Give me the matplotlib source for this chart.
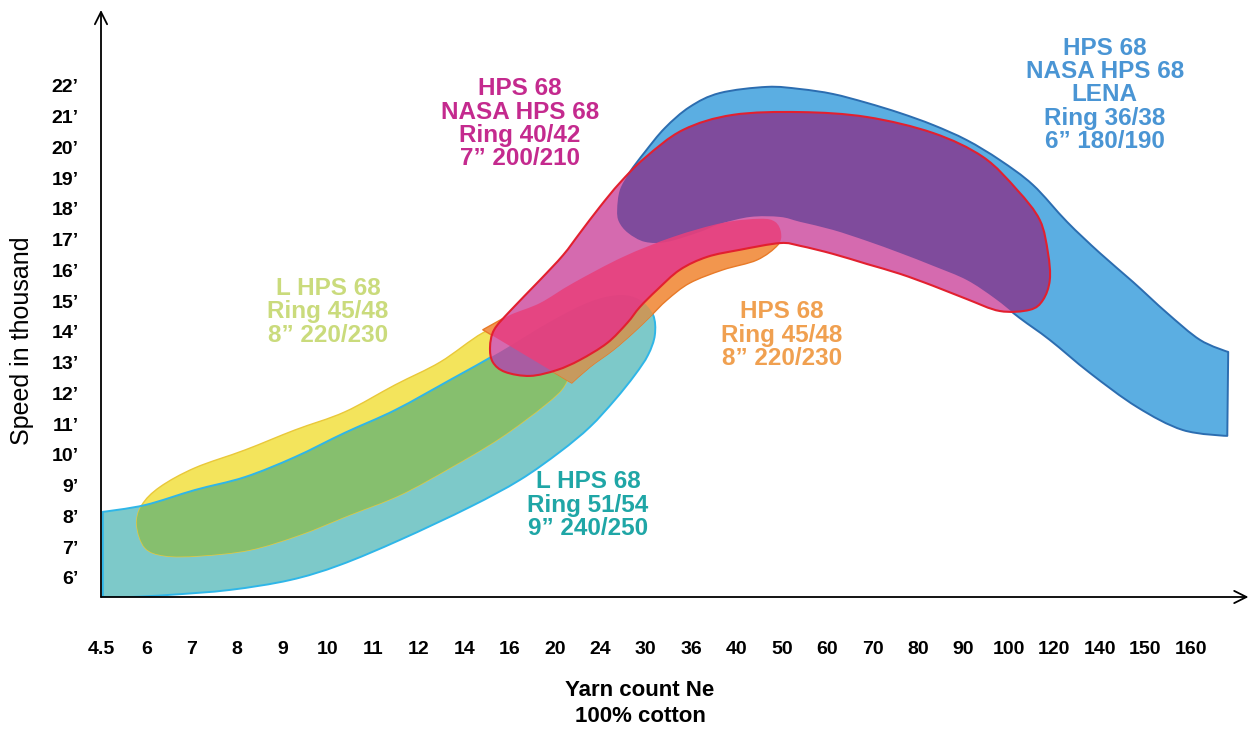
import numpy as np
import matplotlib
matplotlib.use("Agg")
import matplotlib.pyplot as plt
from matplotlib.path import Path
from matplotlib.patches import PathPatch

# ---------------- data ----------------
yarn_counts = ['4.5', '6', '7', '8', '9', '10', '11', '12', '14', '16', '20', '24', '30',
               '36', '40', '50', '60', '70', '80', '90', '100', '120', '140', '150', '160']
speed_ticks = list(range(6, 23))
speed_labels = [f"{v}\u2019" for v in speed_ticks]

# outlines: x = position on the yarn-count scale (category index), y = speed (thousand rpm)
# L HPS 68 / Ring 51/54 / 9" 240/250 (teal)
teal_x = [0.04, 0.97, 2.07, 3.17, 4.27, 5.37, 6.48, 7.69, 8.79, 9.89, 10.77, 11.43, 11.87, 12.16,
          12.20, 12.05, 11.76, 11.32, 10.77, 10.11, 9.23, 8.13, 6.59, 5.26, 4.16, 2.84, 1.52, 0.64, 0.04]
teal_y = [8.15, 8.37, 8.86, 9.28, 9.93, 10.72, 11.46, 12.44, 13.35, 14.33, 14.98, 15.20, 15.04, 14.56,
          13.90, 13.25, 12.60, 11.79, 10.91, 10.10, 9.19, 8.31, 7.24, 6.42, 5.93, 5.61, 5.45, 5.38, 5.38]

# L HPS 68 / Ring 45/48 / 8" 220/230 (yellow)
yellow_x = [0.79, 0.90, 1.30, 2.07, 3.17, 4.27, 5.37, 6.48, 7.47, 8.41, 9.23, 10.00, 10.33, 10.37,
            10.22, 9.78, 8.79, 7.69, 6.59, 5.48, 4.38, 3.28, 2.18, 1.41, 0.97]
yellow_y = [7.72, 8.37, 8.96, 9.58, 10.16, 10.81, 11.40, 12.28, 13.02, 13.97, 14.46, 14.65, 14.07, 13.09,
            12.28, 11.63, 10.55, 9.58, 8.70, 8.05, 7.40, 6.91, 6.72, 6.72, 6.98]

# HPS 68 / Ring 45/48 / 8" 220/230 (orange)
orange_x = [8.41, 9.01, 9.67, 10.40, 11.50, 12.60, 13.70, 14.52, 14.85, 14.98, 14.91, 14.45, 13.70,
            12.97, 12.47, 12.09, 11.72, 11.28, 10.77, 10.37]
orange_y = [14.07, 14.55, 14.94, 15.59, 16.44, 17.09, 17.55, 17.68, 17.58, 17.22, 16.83, 16.34, 16.02,
            15.59, 15.04, 14.49, 13.97, 13.41, 12.86, 12.34]

# HPS 68 / NASA HPS 68 / LENA / Ring 36/38 / 6" 180/190 (blue)
blue_x = [11.37, 11.43, 11.65, 11.98, 12.42, 12.97, 13.63, 14.67, 15.40, 16.12, 16.87, 17.60, 18.33,
          19.07, 19.80, 20.53, 21.28, 22.00, 22.73, 23.48, 24.21, 24.83, 24.81,
          23.83, 22.82, 21.78, 20.90, 20.24, 19.69, 19.07, 18.33, 17.60, 16.87, 16.12, 15.40, 14.96,
          14.30, 13.63, 13.19, 12.47, 11.98, 11.61, 11.41]
blue_y = [17.97, 18.62, 19.20, 19.85, 20.63, 21.32, 21.77, 21.97, 21.90, 21.74, 21.45, 21.12, 20.73,
          20.24, 19.59, 18.78, 17.58, 16.57, 15.63, 14.62, 13.74, 13.35, 10.62,
          10.81, 11.56, 12.67, 13.74, 14.45, 15.09, 15.69, 16.15, 16.57, 16.96, 17.32, 17.58, 17.74,
          17.74, 17.51, 17.25, 16.93, 16.93, 17.22, 17.58]

# HPS 68 / NASA HPS 68 / Ring 40/42 / 7" 200/210 (magenta)
pink_x = [8.57, 8.66, 9.01, 9.67, 10.18, 10.55, 10.99, 11.43, 11.98, 12.82, 13.92, 15.40, 16.87, 18.33,
          19.43, 20.18, 20.68, 20.86, 20.90, 20.75, 20.46, 19.80, 19.07, 18.33, 17.60, 16.87, 16.12,
          15.40, 14.96, 14.07, 13.35, 12.75, 12.25, 11.87, 11.59, 11.15, 10.55, 10.04, 9.45, 8.90, 8.63]
pink_y = [13.51, 14.07, 14.68, 15.69, 16.50, 17.22, 18.07, 18.85, 19.66, 20.57, 21.06, 21.15, 20.99, 20.47,
          19.69, 18.62, 17.64, 16.57, 15.69, 15.04, 14.72, 14.68, 15.07, 15.50, 15.89, 16.21, 16.54,
          16.80, 16.89, 16.67, 16.44, 16.02, 15.37, 14.81, 14.29, 13.64, 13.09, 12.76, 12.57, 12.70, 13.02]

labels = {
    'pink': "HPS 68\nNASA HPS 68\nRing 40/42\n7\u201d 200/210",
    'blue': "HPS 68\nNASA HPS 68\nLENA\nRing 36/38\n6\u201d 180/190",
    'yellow': "L HPS 68\nRing 45/48\n8\u201d 220/230",
    'orange': "HPS 68\nRing 45/48\n8\u201d 220/230",
    'teal': "L HPS 68\nRing 51/54\n9\u201d 240/250",
}

# ---------------- figure ----------------
W, H = 1251, 729
fig = plt.figure(figsize=(W / 100, H / 100), dpi=100)
fig.patch.set_facecolor('white')
ax = fig.add_axes([101 / W, 132 / H, 1144 / W, 587 / H])
ax.set_xlim(0, 25.2)
ax.set_ylim(5.38, 24.47)
for s in ax.spines.values():
    s.set_visible(False)

narrow = ['Liberation Sans Narrow', 'Liberation Sans', 'DejaVu Sans']
sans = ['Liberation Sans', 'DejaVu Sans']


def smooth_path(xs, ys, corners=()):
    """Closed Bezier path passing through every outline point (Catmull-Rom tangents)."""
    P = np.column_stack([xs, ys]).astype(float)
    n = len(P)
    T = np.array([(P[(i + 1) % n] - P[i - 1]) / 2.0 for i in range(n)])
    for c in corners:
        T[c] = 0.0
    verts = [P[0]]
    codes = [Path.MOVETO]
    for i in range(n):
        j = (i + 1) % n
        verts += [P[i] + T[i] / 3.0, P[j] - T[j] / 3.0, P[j]]
        codes += [Path.CURVE4] * 3
    verts.append(P[0])
    codes.append(Path.CLOSEPOLY)
    return Path(verts, codes)


def shape(path, fc, ec='none', lw=0, alpha=1.0, z=1, clip=None):
    p = PathPatch(path, facecolor=fc, edgecolor=ec, linewidth=lw, alpha=alpha, zorder=z,
                  joinstyle='round')
    ax.add_patch(p)
    if clip is not None:
        p.set_clip_path(clip)
    return p


blue_path = smooth_path(blue_x, blue_y, corners=(21, 22))
teal_path = smooth_path(teal_x, teal_y, corners=(0, 28))
yellow_path = smooth_path(yellow_x, yellow_y)
orange_path = smooth_path(orange_x, orange_y, corners=(0, 19))
pink_path = smooth_path(pink_x, pink_y)

blue = shape(blue_path, '#5BAEE2', '#2C6DB0', 1.4, z=1)
teal = shape(teal_path, '#7DC9C9', z=2)
yellow = shape(yellow_path, '#F3E45C', '#E9C83A', 1.0, z=2.5)
shape(yellow_path, '#86BF6E', z=3, clip=teal)
shape(teal_path, 'none', '#2FB6E8', 1.4, z=3.2)
orange = shape(orange_path, '#F2964E', '#E87A28', 1.0, z=4)
shape(orange_path, '#C79A5E', z=4.2, clip=teal)
pink = shape(pink_path, '#D56AAF', z=5)
shape(pink_path, '#7F4B9C', z=5.2, clip=blue)
shape(pink_path, '#A95CA2', z=5.3, clip=teal)
shape(pink_path, '#E8407C', alpha=0.88, z=5.4, clip=orange)
shape(pink_path, 'none', '#E2202F', 1.5, z=5.6)

# labels on the chart
txt = dict(ha='center', va='center', fontweight='bold', fontsize=17.5, linespacing=1.02,
           family=sans, zorder=10)
ax.text(9.23, 20.77, labels['pink'], color='#C42A8E', **txt)
ax.text(22.11, 21.71, labels['blue'], color='#4A95D4', **txt)
ax.text(5.0, 14.65, labels['yellow'], color='#CADB7C', **txt)
ax.text(15.0, 13.90, labels['orange'], color='#F0A050', **txt)
ax.text(10.73, 8.37, labels['teal'], color='#1FA6A6', **txt)

# ticks
ax.set_xticks(range(len(yarn_counts)))
ax.set_xticklabels(yarn_counts, fontsize=14, fontweight='bold', family=narrow)
ax.set_yticks(speed_ticks)
ax.set_yticklabels(speed_labels, fontsize=14, fontweight='bold', family=narrow)
ax.tick_params(axis='x', length=0, pad=32)
ax.tick_params(axis='y', length=0, pad=16)

# axis arrows
arrow = dict(arrowstyle='->', color='black', lw=1.3, mutation_scale=22, shrinkA=0, shrinkB=0)
ax.annotate('', xy=(1.003, 0), xytext=(0, 0), xycoords='axes fraction', arrowprops=arrow,
            annotation_clip=False, zorder=20)
ax.annotate('', xy=(0, 1.0), xytext=(0, 0), xycoords='axes fraction', arrowprops=arrow,
            annotation_clip=False, zorder=20)

# axis titles
fig.text(22 / W, 1 - 341 / H, 'Speed in thousand', rotation=90, ha='center', va='center',
         fontsize=18, family=sans)
fig.text(640 / W, 1 - 690 / H, 'Yarn count Ne', ha='center', va='center', fontsize=16,
         fontweight='bold', family=sans)
fig.text(640 / W, 1 - 716 / H, '100% cotton', ha='center', va='center', fontsize=16,
         fontweight='bold', family=sans)

fig.savefig('out.png', dpi=100, facecolor='white')
